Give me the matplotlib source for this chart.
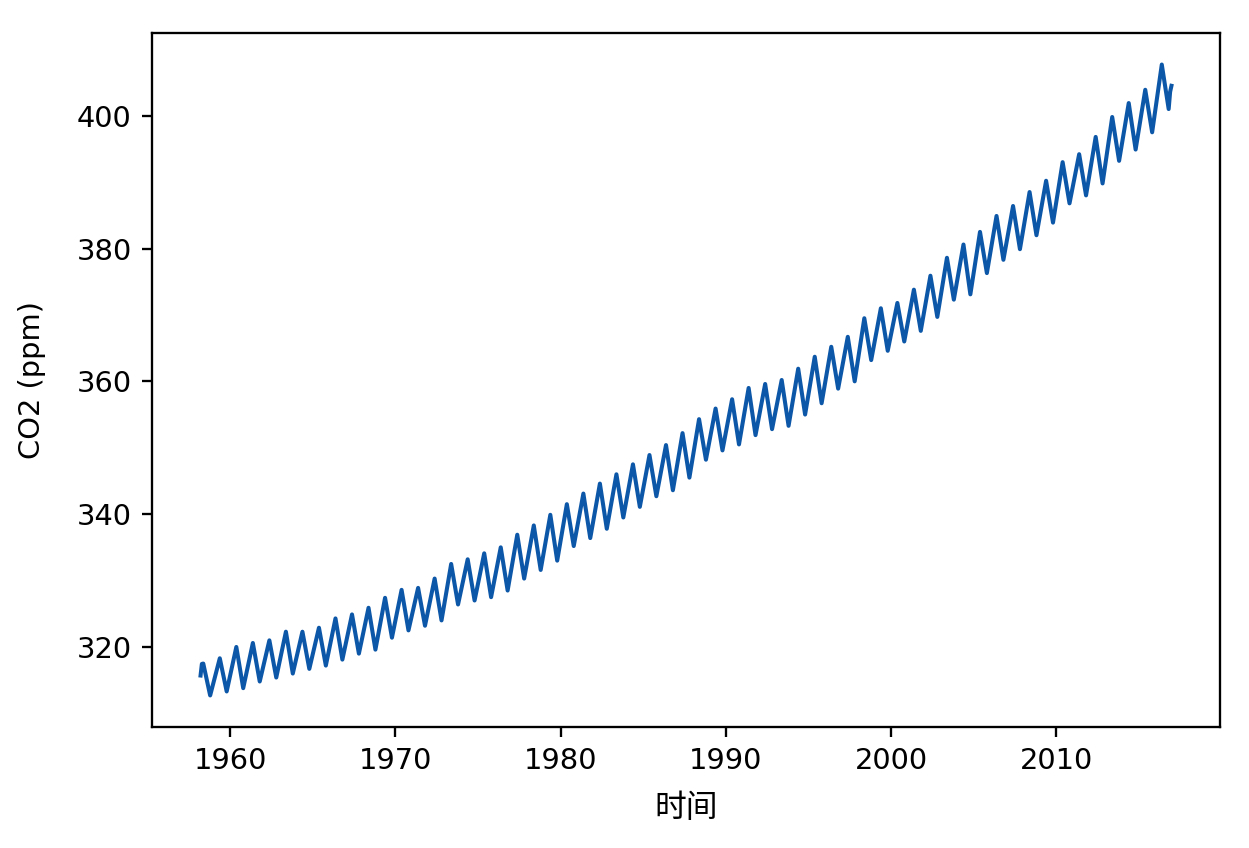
import matplotlib
matplotlib.use("Agg")
import matplotlib.pyplot as plt
import numpy as np

# Mauna Loa CO2, seasonal high (May) and low (Oct) of each year
years = np.arange(1958, 2017)
peak_ppm = [317.5, 318.3, 320.0, 320.6, 321.0, 322.3, 322.3, 322.9, 324.3, 324.9,
            325.9, 327.4, 328.6, 328.9, 330.3, 332.5, 333.2, 334.1, 335.0, 336.9,
            338.3, 339.9, 341.5, 343.1, 344.6, 346.0, 347.5, 348.9, 350.4, 352.2,
            354.3, 355.9, 357.3, 359.0, 359.6, 360.2, 361.9, 363.7, 365.2, 366.7,
            369.5, 371.0, 371.8, 373.8, 375.9, 378.6, 380.6, 382.5, 384.9, 386.4,
            388.5, 390.2, 393.0, 394.2, 396.8, 399.8, 401.9, 403.9, 407.7]
trough_ppm = [312.7, 313.3, 313.8, 314.8, 315.4, 316.0, 316.7, 317.2, 318.1, 319.0,
              319.6, 321.4, 322.5, 323.2, 324.0, 326.4, 327.0, 327.5, 328.5, 330.3,
              331.6, 333.0, 335.2, 336.4, 337.8, 339.5, 341.1, 342.7, 343.6, 345.5,
              348.2, 349.6, 350.5, 351.9, 352.8, 353.3, 355.0, 356.7, 358.9, 360.0,
              363.2, 364.6, 366.0, 367.6, 369.7, 372.3, 373.1, 376.3, 378.3, 379.9,
              382.0, 383.9, 386.8, 388.0, 389.8, 393.2, 394.9, 397.5, 401.0]
peak_month = 5
trough_month = 10

# first two months of the record and last two months
start_time = [1958.21, 1958.29]
start_ppm = [315.7, 317.45]
end_time = [2016.88, 2016.96]
end_ppm = [403.6, 404.5]

t = list(start_time)
v = list(start_ppm)
for y, p, tr in zip(years, peak_ppm, trough_ppm):
    t += [y + (peak_month - 0.5) / 12, y + (trough_month - 0.5) / 12]
    v += [p, tr]
t += end_time
v += end_ppm

plt.rcParams['font.family'] = ['DejaVu Sans']
fig = plt.figure(figsize=(1249 / 208, 848 / 208), dpi=208)
ax = fig.add_axes([152 / 1249, 1 - 727 / 848, (1220 - 152) / 1249, (727 - 33) / 848])
ax.plot(t, v, color='#0d57a8', linewidth=1.4)

ax.set_xlabel('时间', family=['Noto Sans CJK SC', 'DejaVu Sans'], va='center', fontsize=11)
ax.set_ylabel('CO2 (ppm)', va='center')
ax.xaxis.set_label_coords(0.5, -0.117)
ax.yaxis.set_label_coords(-0.112, 0.5)

fig.savefig('out.png', dpi=208)
